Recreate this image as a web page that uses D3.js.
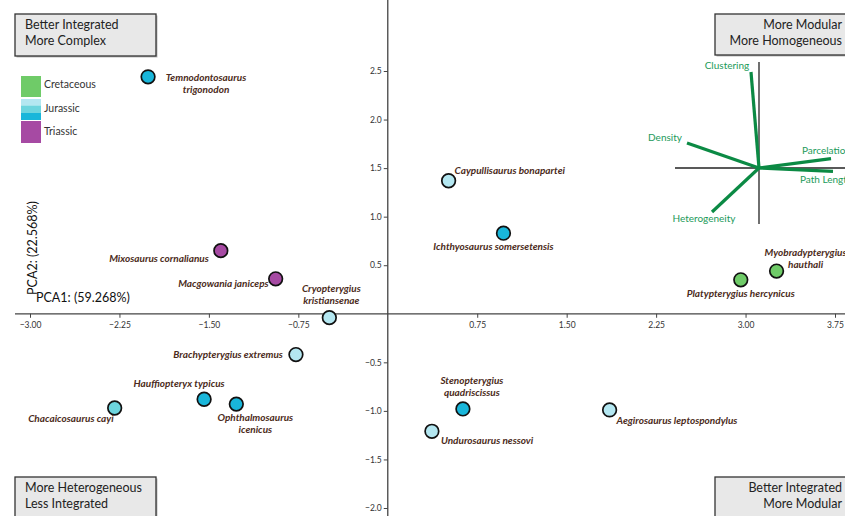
<!DOCTYPE html>
<html><head><meta charset="utf-8">
<script src="https://cdn.jsdelivr.net/npm/d3@7"></script>
<style>
html,body{margin:0;padding:0;background:#fff;}
svg{display:block;}
</style></head>
<body>
<svg id="chart" width="845" height="516"></svg>
<script>
// ---------- data ----------
const species = ["Temnodontosaurus trigonodon","Mixosaurus cornalianus","Macgowania janiceps","Cryopterygius kristiansenae","Brachypterygius extremus","Hauffiopteryx typicus","Ophthalmosaurus icenicus","Chacaicosaurus cayi","Caypullisaurus bonapartei","Ichthyosaurus somersetensis","Myobradypterygius hauthali","Platypterygius hercynicus","Stenopterygius quadriscissus","Undurosaurus nessovi","Aegirosaurus leptospondylus"];
const pc1 = [-2.01,-1.40,-0.94,-0.49,-0.77,-1.54,-1.27,-2.29,0.51,0.97,3.26,2.96,0.63,0.37,1.86];
const pc2 = [2.44,0.65,0.36,-0.04,-0.42,-0.88,-0.93,-0.97,1.37,0.83,0.44,0.35,-0.98,-1.21,-0.99];
const group = ["jurassicDark","triassic","triassic","jurassicLight","jurassicLight","jurassicDark","jurassicDark","jurassicMid","jurassicLight","jurassicDark","cretaceous","cretaceous","jurassicDark","jurassicLight","jurassicLight"];
const xTicks = [-3.00,-2.25,-1.50,-0.75,0.75,1.50,2.25,3.00,3.75];
const yTicks = [2.5,2.0,1.5,1.0,0.5,-0.5,-1.0,-1.5,-2.0];
const loadingNames = ["Clustering","Density","Parcelation","Path Length","Heterogeneity"];
const loadingX = [-0.08,-0.72,0.72,0.74,-0.47];
const loadingY = [0.96,0.25,0.094,-0.033,-0.44];
const legendNames = ["Cretaceous","Jurassic","Triassic"];
const cornerTexts = [["Better Integrated","More Complex"],["More Modular","More Homogeneous"],["More Heterogeneous","Less Integrated"],["Better Integrated","More Modular"]];
const xTitle = "PCA1: (59.268%)";
const yTitle = "PCA2: (22.568%)";

// ---------- styles / layout ----------
const colors = {cretaceous:"#6fcb68", jurassicLight:"#b4e7f1", jurassicMid:"#6dd5de", jurassicDark:"#19b6da", triassic:"#a64aa3"};
// label layout: [anchor, dx, dy, lines]
const labelLayout = [
  ["middle",58,4,["Temnodontosaurus","trigonodon"]],
  ["end",-12,11,["Mixosaurus cornalianus"]],
  ["end",-7,8,["Macgowania janiceps"]],
  ["middle",2,-26,["Cryopterygius","kristiansenae"]],
  ["end",-13,3,["Brachypterygius extremus"]],
  ["middle",-25,-12,["Hauffiopteryx typicus"]],
  ["middle",19,17,["Ophthalmosaurus","icenicus"]],
  ["end",-1,14,["Chacaicosaurus cayi"]],
  ["start",6,-7,["Caypullisaurus bonapartei"]],
  ["middle",-10,17,["Ichthyosaurus somersetensis"]],
  ["middle",29,-15,["Myobradypterygius","hauthali"]],
  ["middle",0,17,["Platypterygius hercynicus"]],
  ["middle",9,-25,["Stenopterygius","quadriscissus"]],
  ["start",9,13,["Undurosaurus nessovi"]],
  ["start",7,14,["Aegirosaurus leptospondylus"]]
];
const loadLabelLayout = [["middle",-24,-3],["middle",-22,-2],["start",-29,-5],["start",-33,12],["middle",-8,10]];

const svg = d3.select("#chart");
const FONT = "Lato, 'Liberation Sans', sans-serif";

const x = d3.scaleLinear().domain([-3, 3.75]).range([30, 835]);
const y = d3.scaleLinear().domain([2.5, -2.0]).range([71, 508]);

// ---------- axes ----------
const axisColor = "#444";
svg.append("line").attr("x1",15).attr("x2",845).attr("y1",y(0)).attr("y2",y(0))
  .attr("stroke",axisColor).attr("stroke-width",1.3);
svg.append("line").attr("x1",x(0)).attr("x2",x(0)).attr("y1",0).attr("y2",516)
  .attr("stroke",axisColor).attr("stroke-width",1.3);

const gx = svg.append("g").attr("transform",`translate(0,${y(0)})`)
  .call(d3.axisBottom(x).tickValues(xTicks).tickSize(4).tickFormat(d3.format(".2f")));
gx.select(".domain").remove();
const gy = svg.append("g").attr("transform",`translate(${x(0)},0)`)
  .call(d3.axisLeft(y).tickValues(yTicks).tickSize(4).tickFormat(d3.format(".1f")));
gy.select(".domain").remove();
[gx,gy].forEach(g=>{
  g.selectAll("line").attr("stroke",axisColor).attr("stroke-width",1);
  g.selectAll("text").attr("fill","#333").attr("font-size",8.5).attr("font-family",FONT);
});
gx.selectAll("text").attr("dy","0.9em");
gy.selectAll("text").attr("x",-6);

// axis titles
svg.append("text").attr("x",36).attr("y",302).text(xTitle)
  .attr("font-family",FONT).attr("font-size",12.5).attr("fill","#111");
svg.append("text").attr("transform","translate(37,248) rotate(-90)").attr("text-anchor","middle").text(yTitle)
  .attr("font-family",FONT).attr("font-size",12.5).attr("fill","#111");

// ---------- corner boxes ----------
const boxes = [
  {x:15,y:14,w:141,h:42,anchor:"start",tx:25},
  {x:715,y:14,w:140,h:41,anchor:"end",tx:842},
  {x:15,y:477,w:141,h:50,anchor:"start",tx:25},
  {x:715,y:477,w:140,h:50,anchor:"end",tx:842}
];
boxes.forEach((b,i)=>{
  svg.append("rect").attr("x",b.x+1.5).attr("y",b.y+1.5).attr("width",b.w).attr("height",b.h).attr("fill","#bbb");
  svg.append("rect").attr("x",b.x).attr("y",b.y).attr("width",b.w).attr("height",b.h)
    .attr("fill","#e8e8e8").attr("stroke","#333").attr("stroke-width",1.3);
  cornerTexts[i].forEach((t,j)=>{
    svg.append("text").attr("x",b.tx).attr("y",b.y+15+j*16).attr("text-anchor",b.anchor)
      .attr("font-family",FONT).attr("font-size",12.5).attr("fill","#222").text(t);
  });
});

// ---------- legend ----------
const leg = svg.append("g");
leg.append("rect").attr("x",21).attr("y",76).attr("width",20).attr("height",21).attr("fill",colors.cretaceous);
leg.append("rect").attr("x",21).attr("y",99).attr("width",20).attr("height",6.5).attr("fill",colors.jurassicLight);
leg.append("rect").attr("x",21).attr("y",105.5).attr("width",20).attr("height",7.5).attr("fill",colors.jurassicMid);
leg.append("rect").attr("x",21).attr("y",113).attr("width",20).attr("height",7).attr("fill",colors.jurassicDark);
leg.append("rect").attr("x",21).attr("y",121).attr("width",20).attr("height",22).attr("fill",colors.triassic);
[88,112,135].forEach((yy,i)=>{
  leg.append("text").attr("x",44).attr("y",yy).text(legendNames[i])
    .attr("font-family",FONT).attr("font-size",10.5).attr("fill","#333");
});

// ---------- biplot of loadings ----------
const bx = d3.scaleLinear().domain([-1,1]).range([659,859]);
const by = d3.scaleLinear().domain([-1,1]).range([268,68]);
svg.append("line").attr("x1",bx(-0.84)).attr("x2",845).attr("y1",by(0)).attr("y2",by(0)).attr("stroke","#222").attr("stroke-width",1.3);
svg.append("line").attr("x1",bx(0)).attr("x2",bx(0)).attr("y1",by(1.06)).attr("y2",by(-0.56)).attr("stroke","#222").attr("stroke-width",1.3);
loadingNames.forEach((n,i)=>{
  svg.append("line").attr("x1",bx(0)).attr("y1",by(0)).attr("x2",bx(loadingX[i])).attr("y2",by(loadingY[i]))
    .attr("stroke","#0b8a44").attr("stroke-width",3.2).attr("stroke-linecap","butt");
  const L = loadLabelLayout[i];
  svg.append("text").attr("x",bx(loadingX[i])+L[1]).attr("y",by(loadingY[i])+L[2]).attr("text-anchor",L[0])
    .attr("font-family",FONT).attr("font-size",10).attr("fill","#1c9a5a").text(n);
});

// ---------- points ----------
species.forEach((s,i)=>{
  const cx = x(pc1[i]), cy = y(pc2[i]);
  svg.append("circle").attr("cx",cx).attr("cy",cy).attr("r",6.8)
    .attr("fill",colors[group[i]]).attr("stroke","#111").attr("stroke-width",1.7);
  const L = labelLayout[i];
  L[3].forEach((line,j)=>{
    svg.append("text").attr("x",cx+L[1]).attr("y",cy+L[2]+j*12).attr("text-anchor",L[0])
      .attr("font-family",FONT).attr("font-size",10).attr("font-weight","bold").attr("font-style","italic")
      .attr("fill","#4b2b20").text(line);
  });
});
</script>
</body></html>
